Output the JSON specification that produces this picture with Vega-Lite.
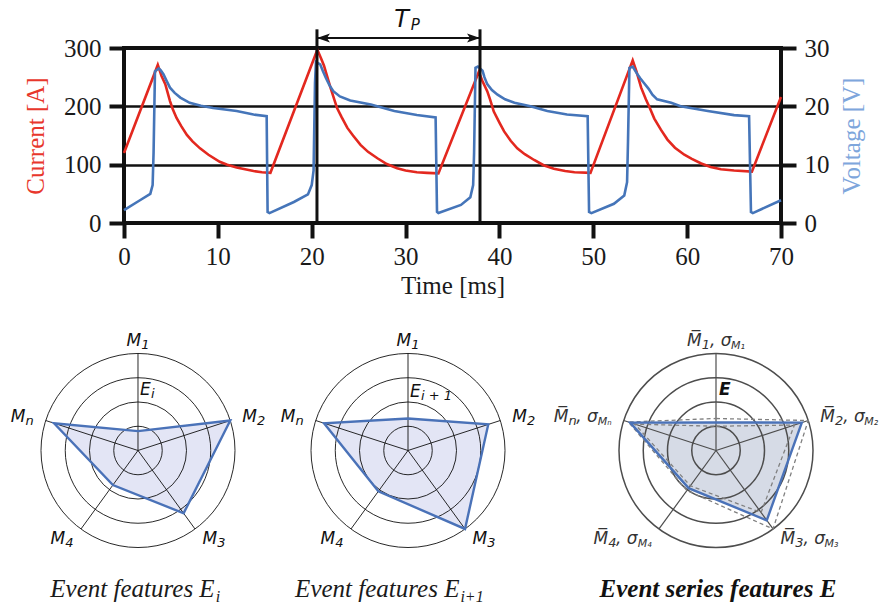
{
  "$schema": "https://vega.github.io/schema/vega-lite/v6.json",
  "background": "white",
  "padding": {"left": 10, "top": 5, "right": 2, "bottom": 2},
  "config": {
    "view": {"stroke": null},
    "font": "DejaVu Sans",
    "axis": {"labelFont": "Liberation Serif", "titleFont": "Liberation Serif", "labelFontSize": 25, "titleFontSize": 25, "titleFontWeight": "normal", "labelColor": "#1a1a1a", "titleColor": "#1a1a1a", "tickColor": "#111", "tickWidth": 4, "tickSize": 15, "domain": false, "labelFlush": false, "labelOverlap": false}
  },
  "datasets": {
    "cur": [
      {"t":0,"I":120},{"t":3.6,"I":271},{"t":4.0,"I":252},{"t":4.4,"I":238},{"t":4.9,"I":209},{"t":5.2,"I":195},{"t":5.6,"I":180},{"t":6.1,"I":166},{"t":6.7,"I":151},{"t":7.3,"I":140},{"t":8.1,"I":128},{"t":9.0,"I":117},{"t":10.2,"I":105},{"t":11.0,"I":100},{"t":12.0,"I":95},{"t":13.8,"I":89},{"t":14.7,"I":87},{"t":15.6,"I":86},
      {"t":20.6,"I":297},{"t":21.0,"I":282},{"t":21.3,"I":270},{"t":22.0,"I":232},{"t":22.7,"I":197},{"t":23.2,"I":181},{"t":23.8,"I":163},{"t":24.4,"I":150},{"t":25.2,"I":134},{"t":26.0,"I":122},{"t":27.0,"I":111},{"t":28.0,"I":101},{"t":29.1,"I":94},{"t":30.0,"I":90},{"t":31.2,"I":87},{"t":32.3,"I":86},{"t":33.5,"I":85},
      {"t":37.8,"I":259},{"t":38.2,"I":243},{"t":38.7,"I":226},{"t":39.0,"I":212},{"t":39.4,"I":191},{"t":40.0,"I":172},{"t":40.5,"I":157},{"t":41.2,"I":141},{"t":41.9,"I":128},{"t":42.7,"I":118},{"t":43.7,"I":108},{"t":44.7,"I":99},{"t":45.8,"I":93},{"t":47.0,"I":89},{"t":48.0,"I":87},{"t":49.7,"I":86},
      {"t":54.2,"I":279},{"t":54.6,"I":260},{"t":55.1,"I":232},{"t":55.6,"I":212},{"t":56.0,"I":198},{"t":56.5,"I":179},{"t":57.2,"I":160},{"t":57.9,"I":143},{"t":58.7,"I":129},{"t":59.7,"I":117},{"t":60.5,"I":110},{"t":61.5,"I":102},{"t":62.5,"I":96},{"t":63.6,"I":92},{"t":65.0,"I":90},{"t":66.9,"I":88},{"t":70,"I":216}
    ],
    "volt": [
      {"t":0,"V":2.2},{"t":1.7,"V":3.9},{"t":2.8,"V":5.0},{"t":3.05,"V":6.5},{"t":3.15,"V":12},{"t":3.3,"V":26.0},{"t":3.7,"V":26.5},{"t":3.9,"V":26.2},{"t":4.2,"V":25.5},{"t":4.5,"V":24.5},{"t":4.9,"V":23.2},{"t":5.4,"V":22.3},{"t":6.0,"V":21.5},{"t":7.0,"V":20.6},{"t":8.2,"V":20.1},{"t":9.5,"V":19.7},{"t":12.0,"V":19.2},{"t":13.8,"V":18.6},{"t":15.2,"V":18.3},
      {"t":15.3,"V":1.9},{"t":15.5,"V":1.7},{"t":18.1,"V":3.6},{"t":19.6,"V":4.9},{"t":20.0,"V":6.5},{"t":20.2,"V":9},{"t":20.35,"V":24},{"t":20.45,"V":27.6},{"t":20.9,"V":27.2},{"t":21.2,"V":26.0},{"t":21.5,"V":24.9},{"t":21.9,"V":23.6},{"t":22.3,"V":22.6},{"t":23.0,"V":21.7},{"t":24.1,"V":21.0},{"t":26.3,"V":20.3},{"t":28.8,"V":19.2},{"t":31.2,"V":18.5},{"t":33.2,"V":18.1},
      {"t":33.35,"V":1.9},{"t":33.5,"V":1.7},{"t":35.9,"V":3.1},{"t":36.9,"V":4.4},{"t":37.2,"V":6.5},{"t":37.3,"V":12},{"t":37.45,"V":26.6},{"t":37.7,"V":26.8},{"t":38.2,"V":26.1},{"t":38.4,"V":25.0},{"t":38.7,"V":23.8},{"t":39.2,"V":22.8},{"t":39.8,"V":22.0},{"t":40.6,"V":21.2},{"t":41.6,"V":20.6},{"t":43.3,"V":20.0},{"t":45.1,"V":19.2},{"t":47.2,"V":18.6},{"t":49.4,"V":18.3},
      {"t":49.55,"V":1.9},{"t":49.8,"V":1.7},{"t":52.2,"V":3.3},{"t":53.3,"V":4.7},{"t":53.6,"V":7},{"t":53.7,"V":14},{"t":53.85,"V":26.6},{"t":54.2,"V":26.8},{"t":54.7,"V":25.5},{"t":55.0,"V":24.8},{"t":55.4,"V":24.0},{"t":55.9,"V":23.0},{"t":56.3,"V":22.0},{"t":56.8,"V":21.2},{"t":58.3,"V":20.6},{"t":59.3,"V":20.0},{"t":62.2,"V":19.2},{"t":65.0,"V":18.5},{"t":66.6,"V":18.3},
      {"t":66.8,"V":1.9},{"t":67.0,"V":1.7},{"t":70,"V":3.9}
    ],
    "period": [{"t0":20.56,"t1":37.93}],
    "rings": [{"r":0.25},{"r":0.5},{"r":0.75},{"r":1}],
    "axes": [
      {"k":0,"s":"1","ss":"M₁"},
      {"k":1,"s":"2","ss":"M₂"},
      {"k":2,"s":"3","ss":"M₃"},
      {"k":3,"s":"4","ss":"M₄"},
      {"k":4,"s":"n","ss":"Mₙ"}
    ],
    "radar": [
      {"chart":"Ei","k":0,"v":0.2},{"chart":"Ei","k":1,"v":1.0},{"chart":"Ei","k":2,"v":0.8},{"chart":"Ei","k":3,"v":0.44},{"chart":"Ei","k":4,"v":0.91},
      {"chart":"Ei1","k":0,"v":0.33},{"chart":"Ei1","k":1,"v":0.87},{"chart":"Ei1","k":2,"v":1.0},{"chart":"Ei1","k":3,"v":0.52},{"chart":"Ei1","k":4,"v":0.91},
      {"chart":"Emean","k":0,"v":0.29},{"chart":"Emean","k":1,"v":0.93},{"chart":"Emean","k":2,"v":0.89},{"chart":"Emean","k":3,"v":0.48},{"chart":"Emean","k":4,"v":0.93},
      {"chart":"Ehi","k":0,"v":0.33},{"chart":"Ehi","k":1,"v":1.0},{"chart":"Ehi","k":2,"v":1.0},{"chart":"Ehi","k":3,"v":0.51},{"chart":"Ehi","k":4,"v":0.95},
      {"chart":"Elo","k":0,"v":0.25},{"chart":"Elo","k":1,"v":0.85},{"chart":"Elo","k":2,"v":0.79},{"chart":"Elo","k":3,"v":0.45},{"chart":"Elo","k":4,"v":0.88}
    ]
  },
  "spacing": 79,
  "bounds": "flush",
  "vconcat": [
    {
      "width": 657, "height": 175,
      "view": {"stroke": "#111", "strokeWidth": 4},
      "resolve": {"scale": {"y": "independent"}},
      "layer": [
        {"data": {"name": "cur"}, "mark": {"type": "line", "color": "#e3281f", "strokeWidth": 2.6},
         "encoding": {
           "x": {"field": "t", "type": "quantitative", "scale": {"domain": [0,70], "nice": false, "zero": false}, "axis": {"values": [0,10,20,30,40,50,60,70], "title": "Time [ms]", "grid": false, "labelPadding": 6, "titlePadding": 4}},
           "y": {"field": "I", "type": "quantitative", "scale": {"domain": [0,300], "nice": false}, "axis": {"values": [0,100,200,300], "title": "Current [A]", "titleColor": "#e8372c", "grid": true, "gridColor": "#111", "gridWidth": 2.5, "labelPadding": 8, "titlePadding": 15}}
         }},
        {"data": {"name": "volt"}, "mark": {"type": "line", "color": "#4575b9", "strokeWidth": 2.6},
         "encoding": {
           "x": {"field": "t", "type": "quantitative", "scale": {"domain": [0,70], "nice": false, "zero": false}},
           "y": {"field": "V", "type": "quantitative", "scale": {"domain": [0,30], "nice": false}, "axis": {"orient": "right", "values": [0,10,20,30], "title": "Voltage [V]", "titleColor": "#7ea6dc", "titleAngle": 270, "titleBaseline": "top", "grid": false, "labelPadding": 8, "titlePadding": 10}}
         }},
        {"data": {"name": "period"},
         "transform": [{"calculate": "0", "as": "ylo"}, {"calculate": "332", "as": "yhi"}, {"calculate": "317", "as": "ya"}, {"calculate": "336", "as": "yt"}, {"calculate": "331", "as": "yp"}, {"calculate": "29.57", "as": "xt"}, {"calculate": "30.55", "as": "xp"}],
         "layer": [
           {"mark": {"type": "rule", "color": "#111", "strokeWidth": 3},
            "encoding": {"x": {"field": "t0", "type": "quantitative"}, "y": {"field": "ylo", "type": "quantitative", "scale": {"domain": [0,300], "nice": false}, "axis": null}, "y2": {"field": "yhi"}}},
           {"mark": {"type": "rule", "color": "#111", "strokeWidth": 3},
            "encoding": {"x": {"field": "t1", "type": "quantitative"}, "y": {"field": "ylo", "type": "quantitative", "scale": {"domain": [0,300], "nice": false}, "axis": null}, "y2": {"field": "yhi"}}},
           {"mark": {"type": "rule", "color": "#111", "strokeWidth": 2},
            "encoding": {"x": {"field": "t0", "type": "quantitative"}, "x2": {"field": "t1"}, "y": {"field": "ya", "type": "quantitative", "scale": {"domain": [0,300], "nice": false}, "axis": null}}},
           {"mark": {"type": "point", "shape": "M0,0L2.6,-0.9L2,0L2.6,0.9Z", "size": 100, "filled": true, "color": "#111", "opacity": 1, "strokeWidth": 0},
            "encoding": {"x": {"field": "t0", "type": "quantitative"}, "y": {"field": "ya", "type": "quantitative", "scale": {"domain": [0,300], "nice": false}, "axis": null}}},
           {"mark": {"type": "point", "shape": "M0,0L-2.6,-0.9L-2,0L-2.6,0.9Z", "size": 100, "filled": true, "color": "#111", "opacity": 1, "strokeWidth": 0},
            "encoding": {"x": {"field": "t1", "type": "quantitative"}, "y": {"field": "ya", "type": "quantitative", "scale": {"domain": [0,300], "nice": false}, "axis": null}}},
           {"mark": {"type": "text", "text": "T", "font": "DejaVu Sans", "fontStyle": "italic", "fontSize": 24, "align": "center", "baseline": "alphabetic", "color": "#111"},
            "encoding": {"x": {"field": "xt", "type": "quantitative"}, "y": {"field": "yt", "type": "quantitative", "scale": {"domain": [0,300], "nice": false}, "axis": null}}},
           {"mark": {"type": "text", "text": "P", "font": "DejaVu Sans", "fontStyle": "italic", "fontSize": 15, "align": "left", "baseline": "alphabetic", "color": "#111"},
            "encoding": {"x": {"field": "xp", "type": "quantitative"}, "y": {"field": "yp", "type": "quantitative", "scale": {"domain": [0,300], "nice": false}, "axis": null}}}
         ]}
      ]
    },
    {
      "spacing": 0,
      "bounds": "flush",
      "hconcat": [
        {
          "width": 270, "height": 300,
          "layer": [
            {"data": {"name": "radar"}, "transform": [{"filter": "datum.chart == 'Ei'"}, {"calculate": "datum.v*sin(datum.k*2*PI/5)", "as": "px"}, {"calculate": "datum.v*cos(datum.k*2*PI/5)", "as": "py"}],
             "mark": {"type": "line", "interpolate": "linear-closed", "fill": "#e3e5f5", "strokeOpacity": 0},
             "encoding": {"x": {"field": "px", "type": "quantitative", "scale": {"domain": [-0.14433,2.63918], "nice": false, "zero": false}, "axis": null}, "y": {"field": "py", "type": "quantitative", "scale": {"domain": [-1.5619,1.5309], "nice": false, "zero": false}, "axis": null}, "order": {"field": "k", "type": "quantitative"}}},
            {"data": {"name": "rings"}, "transform": [{"calculate": "0", "as": "c"}],
             "mark": {"type": "point", "shape": "circle", "filled": false, "stroke": "#111", "strokeWidth": 0.9, "opacity": 1},
             "encoding": {"x": {"field": "c", "type": "quantitative", "scale": {"domain": [-0.14433,2.63918], "nice": false, "zero": false}, "axis": null}, "y": {"field": "c", "type": "quantitative", "scale": {"domain": [-1.5619,1.5309], "nice": false, "zero": false}, "axis": null}, "size": {"field": "r", "type": "quantitative", "scale": {"type": "pow", "exponent": 2, "domain": [0,1], "range": [0,37636], "zero": true, "nice": false}, "legend": null}}},
            {"data": {"name": "axes"}, "transform": [{"calculate": "0", "as": "c"}, {"calculate": "sin(datum.k*2*PI/5)", "as": "sx"}, {"calculate": "cos(datum.k*2*PI/5)", "as": "sy"}],
             "mark": {"type": "rule", "color": "#111", "strokeWidth": 0.9},
             "encoding": {"x": {"field": "c", "type": "quantitative", "scale": {"domain": [-0.14433,2.63918], "nice": false, "zero": false}, "axis": null}, "y": {"field": "c", "type": "quantitative", "scale": {"domain": [-1.5619,1.5309], "nice": false, "zero": false}, "axis": null}, "x2": {"field": "sx"}, "y2": {"field": "sy"}}},
            {"data": {"name": "radar"}, "transform": [{"filter": "datum.chart == 'Ei'"}, {"calculate": "datum.v*sin(datum.k*2*PI/5)", "as": "px"}, {"calculate": "datum.v*cos(datum.k*2*PI/5)", "as": "py"}],
             "mark": {"type": "line", "interpolate": "linear-closed", "stroke": "#4a72b8", "strokeWidth": 2.4},
             "encoding": {"x": {"field": "px", "type": "quantitative", "scale": {"domain": [-0.14433,2.63918], "nice": false, "zero": false}, "axis": null}, "y": {"field": "py", "type": "quantitative", "scale": {"domain": [-1.5619,1.5309], "nice": false, "zero": false}, "axis": null}, "order": {"field": "k", "type": "quantitative"}}},
            {"data": {"values": [{}]}, "transform": [{"calculate": "0", "as": "c"}, {"calculate": "0.62", "as": "ye"}, {"calculate": "0.79", "as": "xc"}, {"calculate": "-1.51", "as": "yc"}],
             "layer": [
               {"mark": {"type": "text", "text": "E", "font": "DejaVu Sans", "fontStyle": "italic", "fontSize": 17, "align": "left", "baseline": "middle", "dx": 2, "color": "#111"},
                "encoding": {"x": {"field": "c", "type": "quantitative", "scale": {"domain": [-0.14433,2.63918], "nice": false, "zero": false}, "axis": null}, "y": {"field": "ye", "type": "quantitative", "scale": {"domain": [-1.5619,1.5309], "nice": false, "zero": false}, "axis": null}}},
               {"mark": {"type": "text", "text": "i", "font": "DejaVu Sans", "fontStyle": "italic", "fontSize": 13, "align": "left", "baseline": "middle", "dx": 13, "dy": 4, "color": "#111"},
                "encoding": {"x": {"field": "c", "type": "quantitative", "scale": {"domain": [-0.14433,2.63918], "nice": false, "zero": false}, "axis": null}, "y": {"field": "ye", "type": "quantitative", "scale": {"domain": [-1.5619,1.5309], "nice": false, "zero": false}, "axis": null}}},
               {"mark": {"type": "text", "text": "Event features E", "font": "Liberation Serif", "fontStyle": "italic", "fontSize": 25, "align": "right", "baseline": "alphabetic", "color": "#1a1a1a"},
                "encoding": {"x": {"field": "xc", "type": "quantitative", "scale": {"domain": [-0.14433,2.63918], "nice": false, "zero": false}, "axis": null}, "y": {"field": "yc", "type": "quantitative", "scale": {"domain": [-1.5619,1.5309], "nice": false, "zero": false}, "axis": null}}},
               {"mark": {"type": "text", "text": "i", "font": "Liberation Serif", "fontStyle": "italic", "fontSize": 16, "align": "left", "baseline": "alphabetic", "dx": 1, "dy": 5, "color": "#1a1a1a"},
                "encoding": {"x": {"field": "xc", "type": "quantitative", "scale": {"domain": [-0.14433,2.63918], "nice": false, "zero": false}, "axis": null}, "y": {"field": "yc", "type": "quantitative", "scale": {"domain": [-1.5619,1.5309], "nice": false, "zero": false}, "axis": null}}}
             ]},
            {"data": {"name": "axes"}, "transform": [{"calculate": "1.13*sin(datum.k*2*PI/5)", "as": "lx"}, {"calculate": "1.13*cos(datum.k*2*PI/5)", "as": "ly"}],
             "encoding": {"x": {"field": "lx", "type": "quantitative", "scale": {"domain": [-0.14433,2.63918], "nice": false, "zero": false}, "axis": null}, "y": {"field": "ly", "type": "quantitative", "scale": {"domain": [-1.5619,1.5309], "nice": false, "zero": false}, "axis": null}},
             "layer": [
               {"transform": [{"filter": "datum.k == 0"}], "mark": {"type": "text", "text": "M", "font": "DejaVu Sans", "fontStyle": "italic", "fontSize": 17, "align": "right", "baseline": "middle", "dx": 3.2, "color": "#111"}},
               {"transform": [{"filter": "datum.k == 0"}], "mark": {"type": "text", "font": "DejaVu Sans", "fontStyle": "italic", "fontSize": 13, "align": "left", "baseline": "middle", "dx": 3.2, "dy": 4, "color": "#111"}, "encoding": {"text": {"field": "s", "type": "nominal"}}},
               {"transform": [{"filter": "datum.k == 1 || datum.k == 2"}], "mark": {"type": "text", "text": "M", "font": "DejaVu Sans", "fontStyle": "italic", "fontSize": 17, "align": "left", "baseline": "middle", "color": "#111"}},
               {"transform": [{"filter": "datum.k == 1 || datum.k == 2"}], "mark": {"type": "text", "font": "DejaVu Sans", "fontStyle": "italic", "fontSize": 13, "align": "left", "baseline": "middle", "dx": 14.7, "dy": 4, "color": "#111"}, "encoding": {"text": {"field": "s", "type": "nominal"}}},
               {"transform": [{"filter": "datum.k >= 3"}], "mark": {"type": "text", "text": "M", "font": "DejaVu Sans", "fontStyle": "italic", "fontSize": 17, "align": "right", "baseline": "middle", "dx": -8.3, "color": "#111"}},
               {"transform": [{"filter": "datum.k >= 3"}], "mark": {"type": "text", "font": "DejaVu Sans", "fontStyle": "italic", "fontSize": 13, "align": "right", "baseline": "middle", "dy": 4, "color": "#111"}, "encoding": {"text": {"field": "s", "type": "nominal"}}}
             ]}
          ]
        },
        {
          "width": 308, "height": 300,
          "layer": [
            {"data": {"name": "radar"}, "transform": [{"filter": "datum.chart == 'Ei1'"}, {"calculate": "datum.v*sin(datum.k*2*PI/5)", "as": "px"}, {"calculate": "datum.v*cos(datum.k*2*PI/5)", "as": "py"}],
             "mark": {"type": "line", "interpolate": "linear-closed", "fill": "#e3e5f5", "strokeOpacity": 0},
             "encoding": {"x": {"field": "px", "type": "quantitative", "scale": {"domain": [-0.14433,3.03093], "nice": false, "zero": false}, "axis": null}, "y": {"field": "py", "type": "quantitative", "scale": {"domain": [-1.5619,1.5309], "nice": false, "zero": false}, "axis": null}, "order": {"field": "k", "type": "quantitative"}}},
            {"data": {"name": "rings"}, "transform": [{"calculate": "0", "as": "c"}],
             "mark": {"type": "point", "shape": "circle", "filled": false, "stroke": "#111", "strokeWidth": 0.9, "opacity": 1},
             "encoding": {"x": {"field": "c", "type": "quantitative", "scale": {"domain": [-0.14433,3.03093], "nice": false, "zero": false}, "axis": null}, "y": {"field": "c", "type": "quantitative", "scale": {"domain": [-1.5619,1.5309], "nice": false, "zero": false}, "axis": null}, "size": {"field": "r", "type": "quantitative", "scale": {"type": "pow", "exponent": 2, "domain": [0,1], "range": [0,37636], "zero": true, "nice": false}, "legend": null}}},
            {"data": {"name": "axes"}, "transform": [{"calculate": "0", "as": "c"}, {"calculate": "sin(datum.k*2*PI/5)", "as": "sx"}, {"calculate": "cos(datum.k*2*PI/5)", "as": "sy"}],
             "mark": {"type": "rule", "color": "#111", "strokeWidth": 0.9},
             "encoding": {"x": {"field": "c", "type": "quantitative", "scale": {"domain": [-0.14433,3.03093], "nice": false, "zero": false}, "axis": null}, "y": {"field": "c", "type": "quantitative", "scale": {"domain": [-1.5619,1.5309], "nice": false, "zero": false}, "axis": null}, "x2": {"field": "sx"}, "y2": {"field": "sy"}}},
            {"data": {"name": "radar"}, "transform": [{"filter": "datum.chart == 'Ei1'"}, {"calculate": "datum.v*sin(datum.k*2*PI/5)", "as": "px"}, {"calculate": "datum.v*cos(datum.k*2*PI/5)", "as": "py"}],
             "mark": {"type": "line", "interpolate": "linear-closed", "stroke": "#4a72b8", "strokeWidth": 2.4},
             "encoding": {"x": {"field": "px", "type": "quantitative", "scale": {"domain": [-0.14433,3.03093], "nice": false, "zero": false}, "axis": null}, "y": {"field": "py", "type": "quantitative", "scale": {"domain": [-1.5619,1.5309], "nice": false, "zero": false}, "axis": null}, "order": {"field": "k", "type": "quantitative"}}},
            {"data": {"values": [{}]}, "transform": [{"calculate": "0", "as": "c"}, {"calculate": "0.6", "as": "ye"}, {"calculate": "0.53", "as": "xc"}, {"calculate": "-1.51", "as": "yc"}],
             "layer": [
               {"mark": {"type": "text", "text": "E", "font": "DejaVu Sans", "fontStyle": "italic", "fontSize": 17, "align": "left", "baseline": "middle", "dx": 2, "color": "#111"},
                "encoding": {"x": {"field": "c", "type": "quantitative", "scale": {"domain": [-0.14433,3.03093], "nice": false, "zero": false}, "axis": null}, "y": {"field": "ye", "type": "quantitative", "scale": {"domain": [-1.5619,1.5309], "nice": false, "zero": false}, "axis": null}}},
               {"mark": {"type": "text", "text": "i + 1", "font": "DejaVu Sans", "fontStyle": "italic", "fontSize": 13, "align": "left", "baseline": "middle", "dx": 13, "dy": 4, "color": "#111"},
                "encoding": {"x": {"field": "c", "type": "quantitative", "scale": {"domain": [-0.14433,3.03093], "nice": false, "zero": false}, "axis": null}, "y": {"field": "ye", "type": "quantitative", "scale": {"domain": [-1.5619,1.5309], "nice": false, "zero": false}, "axis": null}}},
               {"mark": {"type": "text", "text": "Event features E", "font": "Liberation Serif", "fontStyle": "italic", "fontSize": 25, "align": "right", "baseline": "alphabetic", "color": "#1a1a1a"},
                "encoding": {"x": {"field": "xc", "type": "quantitative", "scale": {"domain": [-0.14433,3.03093], "nice": false, "zero": false}, "axis": null}, "y": {"field": "yc", "type": "quantitative", "scale": {"domain": [-1.5619,1.5309], "nice": false, "zero": false}, "axis": null}}},
               {"mark": {"type": "text", "text": "i+1", "font": "Liberation Serif", "fontStyle": "italic", "fontSize": 16, "align": "left", "baseline": "alphabetic", "dx": 1, "dy": 5, "color": "#1a1a1a"},
                "encoding": {"x": {"field": "xc", "type": "quantitative", "scale": {"domain": [-0.14433,3.03093], "nice": false, "zero": false}, "axis": null}, "y": {"field": "yc", "type": "quantitative", "scale": {"domain": [-1.5619,1.5309], "nice": false, "zero": false}, "axis": null}}}
             ]},
            {"data": {"name": "axes"}, "transform": [{"calculate": "1.13*sin(datum.k*2*PI/5)", "as": "lx"}, {"calculate": "1.13*cos(datum.k*2*PI/5)", "as": "ly"}],
             "encoding": {"x": {"field": "lx", "type": "quantitative", "scale": {"domain": [-0.14433,3.03093], "nice": false, "zero": false}, "axis": null}, "y": {"field": "ly", "type": "quantitative", "scale": {"domain": [-1.5619,1.5309], "nice": false, "zero": false}, "axis": null}},
             "layer": [
               {"transform": [{"filter": "datum.k == 0"}], "mark": {"type": "text", "text": "M", "font": "DejaVu Sans", "fontStyle": "italic", "fontSize": 17, "align": "right", "baseline": "middle", "dx": 3.2, "color": "#111"}},
               {"transform": [{"filter": "datum.k == 0"}], "mark": {"type": "text", "font": "DejaVu Sans", "fontStyle": "italic", "fontSize": 13, "align": "left", "baseline": "middle", "dx": 3.2, "dy": 4, "color": "#111"}, "encoding": {"text": {"field": "s", "type": "nominal"}}},
               {"transform": [{"filter": "datum.k == 1 || datum.k == 2"}], "mark": {"type": "text", "text": "M", "font": "DejaVu Sans", "fontStyle": "italic", "fontSize": 17, "align": "left", "baseline": "middle", "color": "#111"}},
               {"transform": [{"filter": "datum.k == 1 || datum.k == 2"}], "mark": {"type": "text", "font": "DejaVu Sans", "fontStyle": "italic", "fontSize": 13, "align": "left", "baseline": "middle", "dx": 14.7, "dy": 4, "color": "#111"}, "encoding": {"text": {"field": "s", "type": "nominal"}}},
               {"transform": [{"filter": "datum.k >= 3"}], "mark": {"type": "text", "text": "M", "font": "DejaVu Sans", "fontStyle": "italic", "fontSize": 17, "align": "right", "baseline": "middle", "dx": -8.3, "color": "#111"}},
               {"transform": [{"filter": "datum.k >= 3"}], "mark": {"type": "text", "font": "DejaVu Sans", "fontStyle": "italic", "fontSize": 13, "align": "right", "baseline": "middle", "dy": 4, "color": "#111"}, "encoding": {"text": {"field": "s", "type": "nominal"}}}
             ]}
          ]
        },
        {
          "width": 171, "height": 300,
          "layer": [
            {"data": {"name": "radar"}, "transform": [{"filter": "datum.chart == 'Emean'"}, {"calculate": "datum.v*sin(datum.k*2*PI/5)", "as": "px"}, {"calculate": "datum.v*cos(datum.k*2*PI/5)", "as": "py"}],
             "mark": {"type": "line", "interpolate": "linear-closed", "fill": "#d6dbe6", "strokeOpacity": 0},
             "encoding": {"x": {"field": "px", "type": "quantitative", "scale": {"domain": [-0.14433,1.61856], "nice": false, "zero": false}, "axis": null}, "y": {"field": "py", "type": "quantitative", "scale": {"domain": [-1.5619,1.5309], "nice": false, "zero": false}, "axis": null}, "order": {"field": "k", "type": "quantitative"}}},
            {"data": {"name": "rings"}, "transform": [{"calculate": "0", "as": "c"}],
             "mark": {"type": "point", "shape": "circle", "filled": false, "stroke": "#4d4d4d", "strokeWidth": 1.5, "opacity": 1},
             "encoding": {"x": {"field": "c", "type": "quantitative", "scale": {"domain": [-0.14433,1.61856], "nice": false, "zero": false}, "axis": null}, "y": {"field": "c", "type": "quantitative", "scale": {"domain": [-1.5619,1.5309], "nice": false, "zero": false}, "axis": null}, "size": {"field": "r", "type": "quantitative", "scale": {"type": "pow", "exponent": 2, "domain": [0,1], "range": [0,37636], "zero": true, "nice": false}, "legend": null}}},
            {"data": {"name": "axes"}, "transform": [{"calculate": "0", "as": "c"}, {"calculate": "sin(datum.k*2*PI/5)", "as": "sx"}, {"calculate": "cos(datum.k*2*PI/5)", "as": "sy"}],
             "mark": {"type": "rule", "color": "#4d4d4d", "strokeWidth": 1.2},
             "encoding": {"x": {"field": "c", "type": "quantitative", "scale": {"domain": [-0.14433,1.61856], "nice": false, "zero": false}, "axis": null}, "y": {"field": "c", "type": "quantitative", "scale": {"domain": [-1.5619,1.5309], "nice": false, "zero": false}, "axis": null}, "x2": {"field": "sx"}, "y2": {"field": "sy"}}},
            {"data": {"name": "radar"}, "transform": [{"filter": "datum.chart == 'Ehi'"}, {"calculate": "datum.v*sin(datum.k*2*PI/5)", "as": "px"}, {"calculate": "datum.v*cos(datum.k*2*PI/5)", "as": "py"}],
             "mark": {"type": "line", "interpolate": "linear-closed", "stroke": "#808080", "strokeWidth": 1.3, "strokeDash": [4,3]},
             "encoding": {"x": {"field": "px", "type": "quantitative", "scale": {"domain": [-0.14433,1.61856], "nice": false, "zero": false}, "axis": null}, "y": {"field": "py", "type": "quantitative", "scale": {"domain": [-1.5619,1.5309], "nice": false, "zero": false}, "axis": null}, "order": {"field": "k", "type": "quantitative"}}},
            {"data": {"name": "radar"}, "transform": [{"filter": "datum.chart == 'Elo'"}, {"calculate": "datum.v*sin(datum.k*2*PI/5)", "as": "px"}, {"calculate": "datum.v*cos(datum.k*2*PI/5)", "as": "py"}],
             "mark": {"type": "line", "interpolate": "linear-closed", "stroke": "#808080", "strokeWidth": 1.3, "strokeDash": [4,3]},
             "encoding": {"x": {"field": "px", "type": "quantitative", "scale": {"domain": [-0.14433,1.61856], "nice": false, "zero": false}, "axis": null}, "y": {"field": "py", "type": "quantitative", "scale": {"domain": [-1.5619,1.5309], "nice": false, "zero": false}, "axis": null}, "order": {"field": "k", "type": "quantitative"}}},
            {"data": {"name": "radar"}, "transform": [{"filter": "datum.chart == 'Emean'"}, {"calculate": "datum.v*sin(datum.k*2*PI/5)", "as": "px"}, {"calculate": "datum.v*cos(datum.k*2*PI/5)", "as": "py"}],
             "mark": {"type": "line", "interpolate": "linear-closed", "stroke": "#4a72b8", "strokeWidth": 2.4},
             "encoding": {"x": {"field": "px", "type": "quantitative", "scale": {"domain": [-0.14433,1.61856], "nice": false, "zero": false}, "axis": null}, "y": {"field": "py", "type": "quantitative", "scale": {"domain": [-1.5619,1.5309], "nice": false, "zero": false}, "axis": null}, "order": {"field": "k", "type": "quantitative"}}},
            {"data": {"values": [{}]}, "transform": [{"calculate": "0", "as": "c"}, {"calculate": "0.62", "as": "ye"}, {"calculate": "0.02", "as": "xc"}, {"calculate": "-1.51", "as": "yc"}],
             "layer": [
               {"mark": {"type": "text", "text": "E", "font": "DejaVu Sans", "fontStyle": "italic", "fontWeight": "bold", "fontSize": 17, "align": "left", "baseline": "middle", "dx": 3, "color": "#111"},
                "encoding": {"x": {"field": "c", "type": "quantitative", "scale": {"domain": [-0.14433,1.61856], "nice": false, "zero": false}, "axis": null}, "y": {"field": "ye", "type": "quantitative", "scale": {"domain": [-1.5619,1.5309], "nice": false, "zero": false}, "axis": null}}},
               {"mark": {"type": "text", "text": "Event series features E", "font": "Liberation Serif", "fontStyle": "italic", "fontWeight": "bold", "fontSize": 25, "align": "center", "baseline": "alphabetic", "color": "#111"},
                "encoding": {"x": {"field": "xc", "type": "quantitative", "scale": {"domain": [-0.14433,1.61856], "nice": false, "zero": false}, "axis": null}, "y": {"field": "yc", "type": "quantitative", "scale": {"domain": [-1.5619,1.5309], "nice": false, "zero": false}, "axis": null}}}
             ]},
            {"data": {"name": "axes"}, "transform": [{"calculate": "1.13*sin(datum.k*2*PI/5)", "as": "lx"}, {"calculate": "1.13*cos(datum.k*2*PI/5)", "as": "ly"}],
             "encoding": {"x": {"field": "lx", "type": "quantitative", "scale": {"domain": [-0.14433,1.61856], "nice": false, "zero": false}, "axis": null}, "y": {"field": "ly", "type": "quantitative", "scale": {"domain": [-1.5619,1.5309], "nice": false, "zero": false}, "axis": null}},
             "layer": [
               {"transform": [{"filter": "datum.k == 0"}], "mark": {"type": "text", "text": "M̅", "font": "DejaVu Sans", "fontStyle": "italic", "fontSize": 17, "align": "left", "baseline": "middle", "dx": -29, "color": "#333"}},
               {"transform": [{"filter": "datum.k == 0"}], "mark": {"type": "text", "font": "DejaVu Sans", "fontStyle": "italic", "fontSize": 13, "align": "left", "baseline": "middle", "dx": -14.3, "dy": 4, "color": "#333"}, "encoding": {"text": {"field": "s", "type": "nominal"}}},
               {"transform": [{"filter": "datum.k == 0"}], "mark": {"type": "text", "text": ", σ", "font": "DejaVu Sans", "fontStyle": "italic", "fontSize": 17, "align": "left", "baseline": "middle", "dx": -6, "color": "#333"}},
               {"transform": [{"filter": "datum.k == 0"}], "mark": {"type": "text", "font": "DejaVu Sans", "fontStyle": "italic", "fontSize": 11, "align": "left", "baseline": "middle", "dx": 15, "dy": 5, "color": "#333"}, "encoding": {"text": {"field": "ss", "type": "nominal"}}},
               {"transform": [{"filter": "datum.k == 1 || datum.k == 2"}], "mark": {"type": "text", "text": "M̅", "font": "DejaVu Sans", "fontStyle": "italic", "fontSize": 17, "align": "left", "baseline": "middle", "color": "#333"}},
               {"transform": [{"filter": "datum.k == 1 || datum.k == 2"}], "mark": {"type": "text", "font": "DejaVu Sans", "fontStyle": "italic", "fontSize": 13, "align": "left", "baseline": "middle", "dx": 14.7, "dy": 4, "color": "#333"}, "encoding": {"text": {"field": "s", "type": "nominal"}}},
               {"transform": [{"filter": "datum.k == 1 || datum.k == 2"}], "mark": {"type": "text", "text": ", σ", "font": "DejaVu Sans", "fontStyle": "italic", "fontSize": 17, "align": "left", "baseline": "middle", "dx": 23, "color": "#333"}},
               {"transform": [{"filter": "datum.k == 1 || datum.k == 2"}], "mark": {"type": "text", "font": "DejaVu Sans", "fontStyle": "italic", "fontSize": 11, "align": "left", "baseline": "middle", "dx": 44, "dy": 5, "color": "#333"}, "encoding": {"text": {"field": "ss", "type": "nominal"}}},
               {"transform": [{"filter": "datum.k >= 3"}], "mark": {"type": "text", "text": "M̅", "font": "DejaVu Sans", "fontStyle": "italic", "fontSize": 17, "align": "right", "baseline": "middle", "dx": -43.3, "color": "#333"}},
               {"transform": [{"filter": "datum.k >= 3"}], "mark": {"type": "text", "font": "DejaVu Sans", "fontStyle": "italic", "fontSize": 13, "align": "right", "baseline": "middle", "dx": -35, "dy": 4, "color": "#333"}, "encoding": {"text": {"field": "s", "type": "nominal"}}},
               {"transform": [{"filter": "datum.k >= 3"}], "mark": {"type": "text", "text": ", σ", "font": "DejaVu Sans", "fontStyle": "italic", "fontSize": 17, "align": "right", "baseline": "middle", "dx": -14, "color": "#333"}},
               {"transform": [{"filter": "datum.k >= 3"}], "mark": {"type": "text", "font": "DejaVu Sans", "fontStyle": "italic", "fontSize": 11, "align": "right", "baseline": "middle", "dy": 5, "color": "#333"}, "encoding": {"text": {"field": "ss", "type": "nominal"}}}
             ]}
          ]
        }
      ]
    }
  ]
}
